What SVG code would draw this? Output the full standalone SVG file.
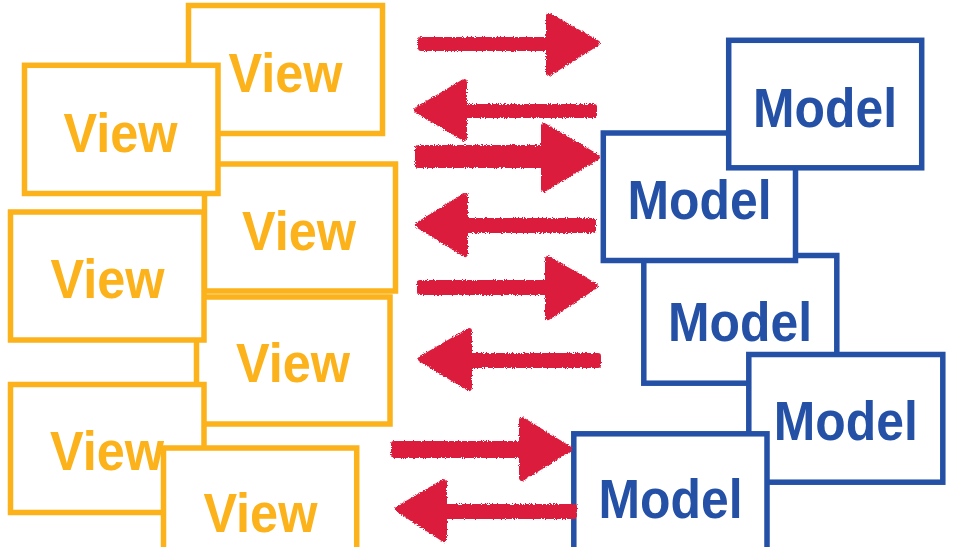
<svg xmlns="http://www.w3.org/2000/svg" width="961" height="547" viewBox="0 0 961 547">
<defs>
<style>
.view rect{fill:#fff;stroke:#FBB21B;stroke-width:5.5}
.view text{fill:#FBB21B;font-family:"Liberation Sans",Arial,sans-serif;font-weight:bold;font-size:55px;text-anchor:middle}
.model rect{fill:#fff;stroke:#2450A6;stroke-width:5.5}
.model text{fill:#2450A6;font-family:"Liberation Sans",Arial,sans-serif;font-weight:bold;font-size:55px;text-anchor:middle}
.arrow{fill:#DC1C3C;stroke:#DC1C3C;stroke-width:6;stroke-linejoin:round}
</style>
<filter id="crayon" x="-10%" y="-20%" width="120%" height="140%">
<feTurbulence type="fractalNoise" baseFrequency="0.9" numOctaves="2" seed="4" result="n"/>
<feDisplacementMap in="SourceGraphic" in2="n" scale="4" xChannelSelector="R" yChannelSelector="G"/>
</filter>
</defs>
<rect width="961" height="547" fill="#fff"/>

<g id="view1" class="view"><rect x="188.5" y="5.5" width="194" height="128"/><text x="285.5" y="92" textLength="114" lengthAdjust="spacingAndGlyphs">View</text></g>
<g id="view3" class="view"><rect x="204.5" y="164" width="191" height="127"/><text x="299" y="250" textLength="114" lengthAdjust="spacingAndGlyphs">View</text></g>
<g id="view5" class="view"><rect x="196.5" y="297" width="193.5" height="127"/><text x="293" y="381.7" textLength="114" lengthAdjust="spacingAndGlyphs">View</text></g>
<g id="view2" class="view"><rect x="24.5" y="65.3" width="193.5" height="128.2"/><text x="120.5" y="151.7" textLength="114" lengthAdjust="spacingAndGlyphs">View</text></g>
<g id="view4" class="view"><rect x="10.5" y="212" width="193.5" height="128"/><text x="107.5" y="298" textLength="114" lengthAdjust="spacingAndGlyphs">View</text></g>
<g id="view6" class="view"><rect x="10.5" y="384.5" width="193.5" height="128"/><text x="107" y="470" textLength="114" lengthAdjust="spacingAndGlyphs">View</text></g>
<g id="view7" class="view"><rect x="163.5" y="448" width="193.2" height="128"/><text x="260.4" y="531.7" textLength="114" lengthAdjust="spacingAndGlyphs">View</text></g>

<g id="model3" class="model"><rect x="643.8" y="255.5" width="193" height="127.7"/><text x="740" y="341" textLength="144" lengthAdjust="spacingAndGlyphs">Model</text></g>
<g id="model2" class="model"><rect x="603.3" y="133" width="192.2" height="127.5"/><text x="699.5" y="219.3" textLength="144" lengthAdjust="spacingAndGlyphs">Model</text></g>
<g id="model1" class="model"><rect x="728.7" y="40.3" width="193" height="127.5"/><text x="825" y="126.7" textLength="144" lengthAdjust="spacingAndGlyphs">Model</text></g>
<g id="model4" class="model"><rect x="748.8" y="354.5" width="194" height="127.7"/><text x="845.8" y="440" textLength="144" lengthAdjust="spacingAndGlyphs">Model</text></g>
<g id="model5" class="model"><rect x="573.8" y="433.8" width="193.2" height="128"/><text x="670.5" y="518.3" textLength="144" lengthAdjust="spacingAndGlyphs">Model</text></g>

<g id="connectors" filter="url(#crayon)">
<path class="arrow" d="M421 40 H549 V16 L597 43 L549 73 V48 H421 Z"/>
<path class="arrow" d="M594 107 H464 V82 L417 110 L464 138 V115 H594 Z"/>
<path class="arrow" d="M418 148 H544 V126 L597 157 L544 189 V165 H418 Z"/>
<path class="arrow" d="M593 221 H465 V196 L418 225 L465 254 V230 H593 Z"/>
<path class="arrow" d="M420 283 H548 V259 L595 286 L548 317 V292 H420 Z"/>
<path class="arrow" d="M598 356 H469 V331 L421 359 L469 388 V365 H598 Z"/>
<path class="arrow" d="M394 444 H522 V420 L569 449 L522 478 V455 H394 Z"/>
<path class="arrow" d="M574 507 H444 V482 L398 509 L444 539 V516 H574 Z"/>
</g>
</svg>
